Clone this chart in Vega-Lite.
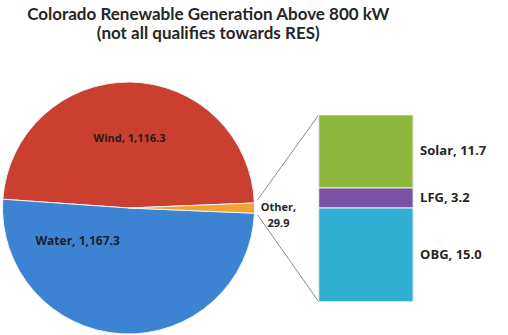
{
  "$schema": "https://vega.github.io/schema/vega-lite/v6.json",
  "background": "white",
  "padding": {"top": 6, "left": 0, "right": 0, "bottom": 0},
  "title": {
    "text": ["Colorado Renewable Generation Above 800 kW", "(not all qualifies towards RES)"],
    "font": "Lato",
    "fontSize": 17,
    "fontWeight": "bold",
    "color": "#262626",
    "anchor": "middle",
    "dx": -47,
    "lineHeight": 19,
    "offset": 9
  },
  "spacing": 0,
  "bounds": "flush",
  "resolve": {"scale": {"color": "independent"}},
  "config": {"view": {"stroke": null}, "concat": {"spacing": 0}},
  "hconcat": [
    {
      "width": 253,
      "height": 250,
      "data": {"values": [
        {"source": "Wind", "value": 1116.3},
        {"source": "Water", "value": 1167.3},
        {"source": "Other", "value": 29.9}
      ]},
      "transform": [
        {"calculate": "datum.source + ', ' + format(datum.value, ',.1f')", "as": "label"},
        {"calculate": "[datum.source + ',', format(datum.value, ',.1f')]", "as": "label2"}
      ],
      "encoding": {
        "theta": {"field": "value", "type": "quantitative", "stack": true, "scale": {"range": [1.531, 7.814]}},
        "order": {"field": "source", "type": "nominal"}
      },
      "layer": [
        {"mark": {"type": "arc", "outerRadius": 126, "stroke": "#eef3f8", "strokeWidth": 1},
          "encoding": {"color": {"field": "source", "type": "nominal", "legend": null,
            "scale": {"domain": ["Other", "Water", "Wind"], "range": ["#F2A22E", "#3D83D3", "#CB3F30"]}}}},
        {"mark": {"type": "text", "radius": 69, "font": "Open Sans", "fontWeight": "bold", "fontSize": 11, "color": "#2a1a1a"},
          "encoding": {"text": {"condition": {"test": "datum.source === 'Wind'", "field": "label"}, "value": ""}}},
        {"mark": {"type": "text", "radius": 33, "dx": -49, "font": "Open Sans", "fontWeight": "bold", "fontSize": 12, "color": "#1a2230"},
          "encoding": {"text": {"condition": {"test": "datum.source === 'Water'", "field": "label"}, "value": ""}}},
        {"mark": {"type": "text", "radius": 150, "font": "Open Sans", "fontWeight": "bold", "fontSize": 11, "color": "#262626", "lineHeight": 16},
          "encoding": {"text": {"condition": {"test": "datum.source === 'Other'", "field": "label2"}, "value": ""}}}
      ]
    },
    {
      "width": 255,
      "height": 250,
      "layer": [
        {
          "data": {"values": [{}]},
          "mark": {"type": "rule", "color": "#8c8c8c", "strokeWidth": 1},
          "encoding": {
            "x": {"datum": 0.04, "type": "quantitative", "scale": {"domain": [0, 4]}, "axis": null},
            "y": {"datum": 16.3, "type": "quantitative", "scale": {"domain": [-4.9, 34.65]}, "axis": null},
            "x2": {"datum": 1},
            "y2": {"datum": 29.9}
          }
        },
        {
          "data": {"values": [{}]},
          "mark": {"type": "rule", "color": "#8c8c8c", "strokeWidth": 1},
          "encoding": {
            "x": {"datum": 0.04, "type": "quantitative"},
            "y": {"datum": 13.9, "type": "quantitative"},
            "x2": {"datum": 1},
            "y2": {"datum": 0}
          }
        },
        {
          "data": {"values": [
            {"source": "Solar", "value": 11.7},
            {"source": "LFG", "value": 3.2},
            {"source": "OBG", "value": 15.0}
          ]},
          "transform": [
            {"calculate": "indexof(['OBG', 'LFG', 'Solar'], datum.source)", "as": "idx"},
            {"stack": "value", "groupby": [], "sort": [{"field": "idx"}], "as": ["v0", "v1"]},
            {"calculate": "(datum.v0 + datum.v1) / 2", "as": "mid"},
            {"calculate": "datum.source + ', ' + format(datum.value, '.1f')", "as": "label"}
          ],
          "layer": [
            {
              "mark": {"type": "bar", "stroke": "#e9f1f5", "strokeWidth": 1},
              "encoding": {
                "x": {"datum": 1, "type": "quantitative"},
                "x2": {"datum": 2.48},
                "y": {"field": "v0", "type": "quantitative"},
                "y2": {"field": "v1"},
                "color": {"field": "source", "type": "nominal", "legend": null,
                  "scale": {"domain": ["Solar", "LFG", "OBG"], "range": ["#8DB63C", "#7A51A4", "#31AFD3"]}}
              }
            },
            {
              "mark": {"type": "text", "align": "left", "baseline": "middle", "font": "Open Sans", "fontWeight": "bold", "fontSize": 13, "color": "#262626"},
              "encoding": {
                "x": {"datum": 2.59, "type": "quantitative"},
                "y": {"field": "mid", "type": "quantitative"},
                "text": {"field": "label"}
              }
            }
          ]
        }
      ]
    }
  ]
}
